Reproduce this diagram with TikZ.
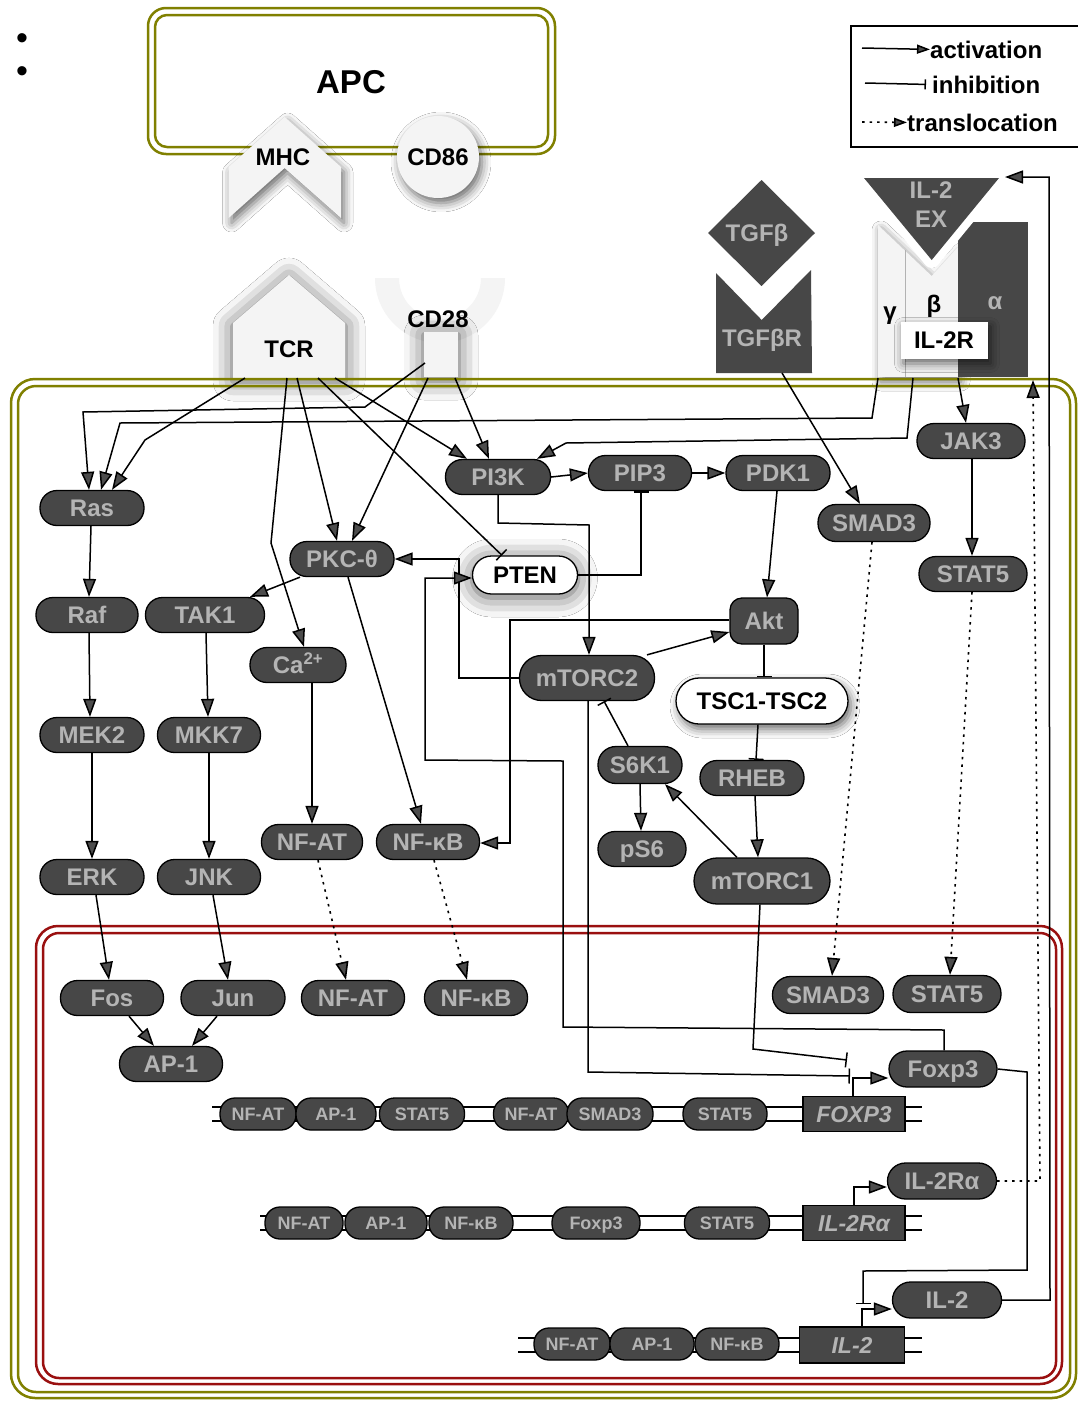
\documentclass[tikz,border=0pt]{standalone}
\usepackage{fontspec}
\setmainfont{Liberation Sans}
\usetikzlibrary{arrows.meta,shadows.blur}
\definecolor{dk}{HTML}{474747}
\definecolor{lt}{HTML}{B4B4B4}
\definecolor{olv}{HTML}{808000}
\definecolor{nred}{HTML}{9A1010}
\definecolor{pale}{HTML}{F4F4F4}
\tikzset{
 every node/.style={font=\bfseries\fontsize{24}{28}\selectfont},
 pill/.style={draw=black, line width=1.3pt, fill=dk, text=lt, rounded corners=17pt, minimum height=35pt, inner sep=0pt, text height=17pt, text depth=0pt},
 wpill/.style={pill, fill=white, text=black},
 dpill/.style={pill, rounded corners=15pt, minimum height=32pt, text height=13pt, font=\bfseries\fontsize{18}{20}\selectfont},
 gene/.style={draw=black, line width=1.3pt, fill=dk, text=lt, minimum width=102pt, minimum height=35pt, inner sep=0pt, text height=16.5pt, text depth=0pt, font=\bfseries\itshape\fontsize{23}{26}\selectfont},
 lbl/.style={inner sep=0pt, text height=17pt, text depth=0pt},
 act/.style={line width=1.5pt, -{Triangle[length=18pt,width=13pt]}},
 actsmall/.style={line width=1.5pt, -{Triangle[length=13pt,width=9pt]}},
 inh/.style={line width=1.5pt, -{Bar[width=15pt,line width=1.5pt]}},
 inhsmall/.style={line width=1.5pt, -{Bar[width=10pt,line width=1.5pt]}},
 trans/.style={line width=1.6pt, dash pattern=on 2.5pt off 5pt, -{Triangle[length=18pt,width=13pt]}},
 transsmall/.style={line width=1.6pt, dash pattern=on 2.5pt off 5pt, -{Triangle[length=13pt,width=9pt]}},
 dnaline/.style={line width=1.5pt},
 memb/.style={draw=olv, line width=2.5pt},
 nucl/.style={draw=nred, line width=2.5pt},
 shadowA/.style={blur shadow={shadow xshift=3pt, shadow yshift=-5pt, shadow blur radius=9pt, shadow opacity=60}},
 halo/.style={blur shadow={shadow xshift=0pt, shadow yshift=-3pt, shadow blur radius=20pt, shadow opacity=65}},
}
\begin{document}
\begin{tikzpicture}[x=1pt,y=-1pt]
\useasboundingbox (0,0) rectangle (1078,1401);
\fill[white] (0,0) rectangle (1078,1401);

% bullets
\node[inner sep=0pt, font=\fontsize{34}{36}\selectfont] (b1) at (22,42) {•};
\node[inner sep=0pt, font=\fontsize{34}{36}\selectfont] (b2) at (22,75) {•};

% APC
\draw[memb, rounded corners=18pt] (148,8) rectangle (555,154);
\draw[memb, rounded corners=12pt] (155,15) rectangle (548,147);
\node[font=\bfseries\fontsize{33}{36}\selectfont, inner sep=0pt] (APC) at (351,82) {APC};

% MHC
\fill[pale, shadowA] (228.6,167) -- (284.6,117) -- (341,167) -- (341,218) -- (284.6,168) -- (228.6,218) -- cycle;
\node[lbl] (MHC) at (283,157) {MHC};
% CD86
\fill[pale, shadowA] (438,157) circle (41);
\node[lbl] (CD86) at (438,157) {CD86};

% TCR
\fill[pale, halo] (233,323) -- (289,275) -- (345,323) -- (345,378) -- (233,378) -- cycle;
\node[lbl] (TCR) at (289,349) {TCR};
% CD28
\begin{scope}
\clip (370,278) rectangle (510,350);
\fill[pale, even odd rule] (440,278) circle (65) (440,278) circle (41);
\end{scope}
\fill[pale, halo] (424,332) rectangle (458,377);
\node[lbl] (CD28) at (438,319) {CD28};

% TGFb
\fill[dk] (761.5,180) -- (815,233) -- (761.5,286) -- (708,233) -- cycle;
\node[lbl, text=lt] (TGFb) at (757,233) {TGFβ};
\fill[dk] (716,273) -- (761.7,320) -- (811,270) -- (812,373) -- (716,373) -- cycle;
\node[lbl, text=lt] (TGFbR) at (762,338) {TGFβR};

% IL-2R
\fill[pale, shadowA] (878,225) -- (931.7,276) -- (958,247) -- (958,377) -- (878,377) -- cycle;
\fill[dk] (958,222) rectangle (1028,377);
\draw[white, line width=16pt, line join=round] (864,178) -- (999,178) -- (931.7,260) -- cycle;
\fill[dk] (864,178) -- (999,178) -- (931.7,260) -- cycle;
\draw[black!30, line width=0.8pt] (905,250) -- (905,377);
\node[lbl, text=lt] (ILex1) at (931,190) {IL-2};
\node[lbl, text=lt] (ILex2) at (931,219) {EX};
\node[lbl] (gtxt) at (890,311) {γ};
\node[lbl] (btxt) at (934,304) {β};
\node[lbl, text=lt] (atxt) at (995,301) {α};
\node[fill=white, shadowA, minimum width=87pt, minimum height=37pt, inner sep=0pt, text height=17pt, text depth=0pt] (IL2R) at (944,340) {IL-2R};

% compartments
\draw[memb, rounded corners=24pt] (11,379) rectangle (1076,1398);
\draw[memb, rounded corners=18pt] (18,386) rectangle (1070,1392);
\draw[nucl, rounded corners=22pt] (36,926) rectangle (1062,1384);
\draw[nucl, rounded corners=16pt] (43,933) rectangle (1056,1378);

% legend
\draw[line width=1.5pt] (851,26) rectangle (1090,147);
\node[anchor=base west, inner sep=0pt] (lgA) at (930,58) {activation};
\node[anchor=base west, inner sep=0pt] (lgI) at (932,93) {inhibition};
\node[anchor=base west, inner sep=0pt] (lgT) at (907,131) {translocation};
\coordinate (lA) at (862,48);
\coordinate (lI) at (865,83);
\coordinate (lT) at (862,122);
\draw[actsmall] (lA) -- (lgA.west);
\draw[inhsmall] (lI) -- ([xshift=-6pt]lgI.west);
\draw[transsmall] (lT) -- (lgT.west);

% cytoplasm nodes
\node[pill, minimum width=104pt] (Ras) at (92,508) {Ras};
\node[pill, minimum width=102pt] (Raf) at (87,615) {Raf};
\node[pill, minimum width=119pt] (TAK1) at (205,615) {TAK1};
\node[pill, minimum width=96pt] (Ca) at (298,665) {Ca\textsuperscript{2+}};
\node[pill, minimum width=104pt] (PKC) at (342,559) {PKC-θ};
\node[wpill, minimum width=105pt, minimum height=38pt, rounded corners=19pt, halo] (PTEN) at (525,575) {PTEN};
\node[pill, minimum width=105pt] (PI3K) at (498,477) {PI3K};
\node[pill, minimum width=103pt] (PIP3) at (640,473) {PIP3};
\node[pill, minimum width=104pt] (PDK1) at (778,473) {PDK1};
\node[pill, minimum width=112pt, minimum height=37pt, rounded corners=18pt] (SMADc) at (874,523) {SMAD3};
\node[pill, minimum width=108pt] (JAK3) at (971,441) {JAK3};
\node[pill, minimum width=108pt] (STATc) at (973,574) {STAT5};
\node[pill, minimum width=68pt, minimum height=46pt, rounded corners=12pt] (Akt) at (764,621) {Akt};
\node[pill, minimum width=135pt, minimum height=45pt, rounded corners=22pt] (mTORC2) at (587,678) {mTORC2};
\node[wpill, minimum width=172pt, minimum height=46pt, rounded corners=23pt, shadowA] (TSC) at (762,701) {TSC1-TSC2};
\node[pill, minimum width=84pt, minimum height=37pt, rounded corners=18pt] (S6K1) at (640,765) {S6K1};
\node[pill, minimum width=104pt] (RHEB) at (752,778) {RHEB};
\node[pill, minimum width=88pt] (pS6) at (642,849) {pS6};
\node[pill, minimum width=136pt, minimum height=46pt, rounded corners=23pt] (mTORC1) at (762,881) {mTORC1};
\node[pill, minimum width=104pt] (MEK2) at (92,735) {MEK2};
\node[pill, minimum width=103pt] (MKK7) at (209,735) {MKK7};
\node[pill, minimum width=104pt] (ERK) at (92,877) {ERK};
\node[pill, minimum width=103pt] (JNK) at (209,877) {JNK};
\node[pill, minimum width=101pt] (NFATc) at (312,842) {NF-AT};
\node[pill, minimum width=103pt] (NFkBc) at (428,842) {NF-κB};

% nucleus nodes
\node[pill, minimum width=103pt] (Fos) at (112,998) {Fos};
\node[pill, minimum width=104pt] (Jun) at (233,998) {Jun};
\node[pill, minimum width=103pt] (NFATn) at (353,998) {NF-AT};
\node[pill, minimum width=103pt] (NFkBn) at (476,998) {NF-κB};
\node[pill, minimum width=103pt] (AP1) at (171,1064) {AP-1};
\node[pill, minimum width=111pt, minimum height=37pt, rounded corners=18pt] (SMADn) at (828,995) {SMAD3};
\node[pill, minimum width=108pt, minimum height=37pt, rounded corners=18pt] (STATn) at (947,994) {STAT5};
\node[pill, minimum width=108pt, minimum height=36pt, rounded corners=18pt] (Foxp3) at (943,1069) {Foxp3};
\node[pill, minimum width=109pt, minimum height=36pt, rounded corners=18pt] (IL2Ra) at (942,1181) {IL-2Rα};
\node[pill, minimum width=109pt, minimum height=36pt, rounded corners=18pt] (IL2) at (947,1300) {IL-2};

% DNA rows
\draw[dnaline] (212,1107) -- (922,1107);
\draw[dnaline] (212,1121) -- (922,1121);
\node[dpill, minimum width=76pt] (r1a) at (258,1114) {NF-AT};
\node[dpill, minimum width=80pt] (r1b) at (336,1114) {AP-1};
\node[dpill, minimum width=85pt] (r1c) at (422,1114) {STAT5};
\node[dpill, minimum width=75pt] (r1d) at (531,1114) {NF-AT};
\node[dpill, minimum width=86pt] (r1e) at (610,1114) {SMAD3};
\node[dpill, minimum width=84pt] (r1f) at (725,1114) {STAT5};
\node[gene] (gFOXP3) at (854,1114) {FOXP3};

\draw[dnaline] (260,1216) -- (922,1216);
\draw[dnaline] (260,1230) -- (922,1230);
\node[dpill, minimum width=78pt] (r2a) at (304,1223) {NF-AT};
\node[dpill, minimum width=82pt] (r2b) at (386,1223) {AP-1};
\node[dpill, minimum width=84pt] (r2c) at (471,1223) {NF-κB};
\node[dpill, minimum width=88pt] (r2d) at (596,1223) {Foxp3};
\node[dpill, minimum width=85pt] (r2e) at (727,1223) {STAT5};
\node[gene] (gIL2Ra) at (854,1223) {IL-2Rα};

\draw[dnaline] (518,1338) -- (922,1338);
\draw[dnaline] (518,1352) -- (922,1352);
\node[dpill, minimum width=76pt] (r3a) at (572,1344) {NF-AT};
\node[dpill, minimum width=84pt] (r3b) at (652,1344) {AP-1};
\node[dpill, minimum width=84pt] (r3c) at (737,1344) {NF-κB};
\node[gene, minimum width=105pt, minimum height=36pt] (gIL2) at (852,1345) {IL-2};

% connector endpoints
\coordinate (t1) at (245,378);
\coordinate (t2) at (287,378);
\coordinate (t3) at (297,378);
\coordinate (t4) at (318,378);
\coordinate (t5) at (335,378);
\coordinate (c1) at (425,363);
\coordinate (c2) at (428,378);
\coordinate (c3) at (455,378);
\coordinate (tgS) at (782,373);
\coordinate (gS) at (878,378);
\coordinate (bS) at (913,378);
\coordinate (aS) at (958,378);
\coordinate (exT) at (1005,177);
\coordinate (mbT) at (1033,380);
\coordinate (fxA) at (847,1060);
\coordinate (fxB) at (850,1076);
\coordinate (il2tx) at (863,1304);

% receptor signalling
\draw[act] (t1) -- (145,440) -- (Ras.north -| 112,0);
\draw[act] (c1) -- (365,407) -- (83,412) -- (Ras.north -| 89,0);
\draw[act] (gS) -- (872,418) -- (120,423) -- (Ras.north -| 101,0);
\draw[act] (t5) -- (PI3K.north -| 467,0);
\draw[act] (c3) -- (PI3K.north -| 489,0);
\draw[act] (bS) -- (907,438) -- (566,443) -- (PI3K.north -| 537,0);
\draw[act] (c2) -- (PKC.north -| 352,0);
\draw[act] (t3) -- (PKC.north -| 337,0);
\draw[act] (t2) -- (271,543) -- (Ca.north -| 304,0);
\draw[inh] (t4) -- (PTEN.north -| 502,0);
\draw[act] (tgS) -- (SMADc.north -| 860,0);
\draw[act] (aS) -- (JAK3.north -| 966,0);

% PI3K / Akt / mTOR
\draw[act] (PI3K.east) -- (PIP3.west);
\draw[act] (PIP3.east) -- (PDK1.west);
\draw[act] (PI3K.south) -- (498,523) -- (589,525) -- (mTORC2.north -| 589,0);
\draw[inh] (PTEN.east) -- (641,575) -- (PIP3.south -| 641,0);
\draw[act] (PDK1.south -| 777,0) -- (Akt.north -| 767,0);
\draw[act] (mTORC2.west) -- (459,678) -- (459,559) -- (PKC.east |- 0,559);
\draw[act] (mTORC2.north -| 647,0) -- (Akt.west |- 0,632);
\draw[act] (Akt.west |- 0,620) -- (510,620) -- (510,843) -- (NFkBc.east |- 0,843);
\draw[inh] (Akt.south) -- (TSC.north -| 764,0);
\draw[inh] (TSC.south -| 758,0) -- (RHEB.north -| 756,0);
\draw[act] (RHEB.south -| 755,0) -- (mTORC1.north -| 758,0);
\draw[act] (mTORC1.north -| 737,0) -- (S6K1.south -| 665,0);
\draw[act] (S6K1.south) -- (pS6.north -| 641,0);
\draw[inh] (S6K1.north -| 628,0) -- (mTORC2.south -| 604,0);

% MAPK etc.
\draw[act] (PKC.south -| 300,0) -- (TAK1.north -| 250,0);
\draw[act] (PKC.south -| 348,0) -- (NFkBc.north -| 421,0);
\draw[act] (Ras.south -| 91,0) -- (Raf.north -| 89,0);
\draw[act] (Raf.south -| 89,0) -- (MEK2.north -| 90,0);
\draw[act] (TAK1.south -| 206,0) -- (MKK7.north -| 208,0);
\draw[act] (Ca.south -| 312,0) -- (NFATc.north -| 312,0);
\draw[act] (MEK2.south -| 92,0) -- (ERK.north -| 92,0);
\draw[act] (MKK7.south -| 209,0) -- (JNK.north -| 209,0);
\draw[act] (JAK3.south -| 972,0) -- (STATc.north -| 972,0);
\draw[act] (ERK.south -| 96,0) -- (Fos.north -| 109,0);
\draw[act] (JNK.south -| 213,0) -- (Jun.north -| 228,0);
\draw[act] (Fos.south -| 129,0) -- (AP1.north -| 154,0);
\draw[act] (Jun.south -| 217,0) -- (AP1.north -| 192,0);

% translocations
\draw[trans] (NFATc.south -| 318,0) -- (NFATn.north -| 346,0);
\draw[trans] (NFkBc.south -| 434,0) -- (NFkBn.north -| 467,0);
\draw[trans] (SMADc.south -| 872,0) -- (SMADn.north -| 832,0);
\draw[trans] (STATc.south -| 972,0) -- (STATn.north -| 950,0);
\draw[trans] (IL2Ra.east) -- (1040,1181) -- (mbT);

% transcription
\draw[act] (gFOXP3.north -| 853,0) -- (853,1078) -- (Foxp3.west |- 0,1078);
\draw[act] (gIL2Ra.north -| 854,0) -- (854,1187) -- (IL2Ra.west |- 0,1187);
\draw[act] (gIL2.north -| 862,0) -- (862,1309) -- (IL2.west |- 0,1309);
\draw[inh] (mTORC1.south -| 760,0) -- (753,1049) -- (fxA);
\draw[inh] (mTORC2.south -| 588,0) -- (588,1072) -- (fxB);
\draw[inh] (Foxp3.east) -- (1027,1072) -- (1027,1270) -- (863,1271) -- (il2tx);
\draw[act] (Foxp3.north -| 944,0) -- (944,1030) -- (563,1027) -- (563,761) -- (425,760) -- (425,578) -- (PTEN.west |- 0,578);
\draw[act] (IL2.east) -- (1050,1300) -- (1049,177) -- (exT);
\end{tikzpicture}
\end{document}
